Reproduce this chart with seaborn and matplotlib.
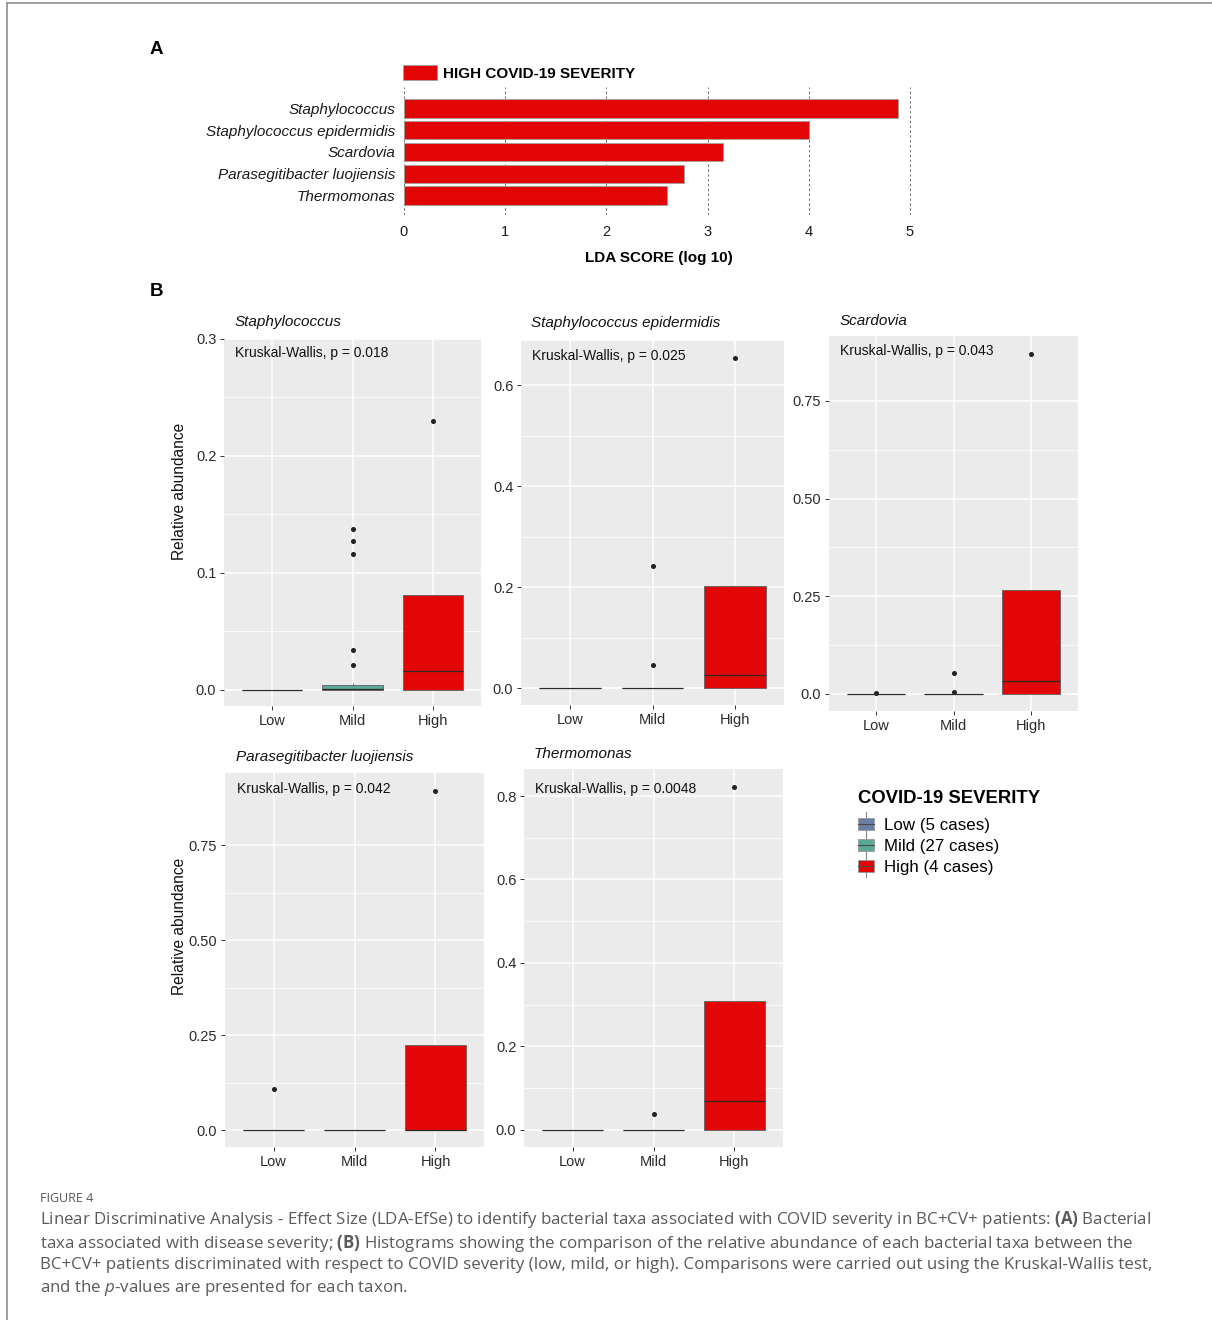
import matplotlib
matplotlib.use("Agg")
import matplotlib.pyplot as plt
import numpy as np
import pandas as pd
import seaborn as sns
from matplotlib.patches import Patch, Rectangle
from matplotlib.lines import Line2D
from matplotlib.legend_handler import HandlerBase

plt.rcParams["font.family"] = ["Liberation Sans", "DejaVu Sans"]
plt.rcParams["mathtext.fontset"] = "custom"
plt.rcParams["mathtext.rm"] = "Open Sans"
plt.rcParams["mathtext.bf"] = "Open Sans:bold"
plt.rcParams["mathtext.it"] = "Open Sans:italic"

# ---------------------------------------------------------------- data
severity_levels = ["Low", "Mild", "High"]
severity_legend = ["Low (5 cases)", "Mild (27 cases)", "High (4 cases)"]
severity_colors = ["#6b7fa3", "#5aa897", "#e30606"]

lda_taxa = ["Staphylococcus", "Staphylococcus epidermidis", "Scardovia",
            "Parasegitibacter luojiensis", "Thermomonas"]
lda_scores = [4.88, 4.00, 3.15, 2.77, 2.60]
lda_ticks = [0, 1, 2, 3, 4, 5]

# relative abundance per patient, by severity group
staph_low = [0, 0, 0, 0, 0]
staph_mild = [0, 0, 0, 0, 0, 0, 0, 0, 0, 0, 0, 0, 0,
              0.0005, 0.001, 0.0015, 0.002, 0.0025, 0.003, 0.0035, 0.0045,
              0.006, 0.021, 0.034, 0.116, 0.127, 0.138]
staph_high = [0, 0, 0.032, 0.230]

epi_low = [0, 0, 0, 0, 0]
epi_mild = [0, 0, 0, 0, 0, 0, 0, 0, 0, 0, 0, 0, 0, 0, 0, 0, 0, 0, 0, 0,
            0, 0, 0, 0, 0, 0.047, 0.243]
epi_high = [0, 0, 0.052, 0.654]

scar_low = [0, 0, 0, 0, 0.003]
scar_mild = [0, 0, 0, 0, 0, 0, 0, 0, 0, 0, 0, 0, 0, 0, 0, 0, 0, 0, 0, 0,
             0, 0, 0, 0, 0, 0.004, 0.052]
scar_high = [0, 0, 0.065, 0.870]

para_low = [0, 0, 0, 0, 0.107]
para_mild = [0, 0, 0, 0, 0, 0, 0, 0, 0, 0, 0, 0, 0, 0, 0, 0, 0, 0, 0, 0,
             0, 0, 0, 0, 0, 0, 0]
para_high = [0, 0, 0, 0.892]

thermo_low = [0, 0, 0, 0, 0]
thermo_mild = [0, 0, 0, 0, 0, 0, 0, 0, 0, 0, 0, 0, 0, 0, 0, 0, 0, 0, 0, 0,
               0, 0, 0, 0, 0, 0, 0.037]
thermo_high = [0, 0, 0.136, 0.822]

kruskal_p = ["0.018", "0.025", "0.043", "0.042", "0.0048"]

facet_yticks = [[0, 0.1, 0.2, 0.3],
                [0, 0.2, 0.4, 0.6],
                [0, 0.25, 0.50, 0.75],
                [0, 0.25, 0.50, 0.75],
                [0, 0.2, 0.4, 0.6, 0.8]]
facet_yticklabels = [["0.0", "0.1", "0.2", "0.3"],
                     ["0.0", "0.2", "0.4", "0.6"],
                     ["0.0", "0.25", "0.50", "0.75"],
                     ["0.0", "0.25", "0.50", "0.75"],
                     ["0.0", "0.2", "0.4", "0.6", "0.8"]]
facet_ylims = [(-0.0137, 0.300), (-0.033, 0.688), (-0.0443, 0.9165),
               (-0.0447, 0.9395), (-0.0417, 0.865)]

group_values = [(staph_low, staph_mild, staph_high),
                (epi_low, epi_mild, epi_high),
                (scar_low, scar_mild, scar_high),
                (para_low, para_mild, para_high),
                (thermo_low, thermo_mild, thermo_high)]

rows = []
for taxon, groups in zip(lda_taxa, group_values):
    for level, vals in zip(severity_levels, groups):
        for v in vals:
            rows.append((taxon, level, v))
abund = pd.DataFrame(rows, columns=["taxon", "severity", "abundance"])

# ---------------------------------------------------------------- layout
W, H = 1212, 1320
fig = plt.figure(figsize=(W / 100, H / 100), dpi=100)
fig.patch.set_facecolor("white")


def fx(x):
    return x / W


def fy(y):
    return 1 - y / H


def px_axes(left, top, right, bottom):
    return fig.add_axes([fx(left), fy(bottom), (right - left) / W, (bottom - top) / H])


# page frame
fig.add_artist(Line2D([fx(7), fx(7)], [0, fy(3)], color="#8f8f8f", lw=1.2))
fig.add_artist(Line2D([fx(7), 1], [fy(3), fy(3)], color="#8f8f8f", lw=1.2))

HIGH_RED = severity_colors[2]

# ---------------------------------------------------------------- panel A
fig.text(fx(150), fy(50), "A", fontsize=13.5, fontweight="bold", va="center", ha="left")

# axis spans a touch past 5 so the last grid line is not clipped
axA = px_axes(404, 87, 914, 215)
lda_df = pd.DataFrame({"taxon": lda_taxa, "score": lda_scores})
sns.barplot(data=lda_df, x="score", y="taxon", order=lda_taxa, color=HIGH_RED,
            saturation=1, width=0.846, edgecolor="#a0a0a0", linewidth=0.6, ax=axA)
axA.set_xlim(0, 5 * (914 - 404) / (910 - 404))
axA.set_ylim(4.9, -0.99)
axA.set_xticks(lda_ticks)
axA.set_xticklabels([str(t) for t in lda_ticks])
axA.grid(axis="x", linestyle=(0, (2.5, 2.5)), color="#6e6e6e", linewidth=0.7)
axA.grid(axis="y", visible=False)
axA.set_axisbelow(True)
for s in axA.spines.values():
    s.set_visible(False)
axA.tick_params(axis="both", length=0, labelsize=10.5, colors="#1a1a1a")
axA.tick_params(axis="y", pad=6, labelsize=11)
axA.tick_params(axis="x", pad=7)
for lab in axA.get_yticklabels():
    lab.set_fontstyle("italic")
axA.set_ylabel("")
axA.set_xlabel("LDA SCORE (log 10)", fontsize=11, fontweight="bold", labelpad=9)
axA.patch.set_alpha(0)

axA.legend(handles=[Patch(facecolor=HIGH_RED, edgecolor="#a0a0a0", lw=0.6,
                          label="HIGH COVID-19 SEVERITY")],
           loc="lower left", bbox_to_anchor=(fx(403), fy(81)),
           bbox_transform=fig.transFigure, frameon=False, borderpad=0,
           borderaxespad=0, handlelength=2.2, handleheight=1.1,
           handletextpad=0.45, prop={"weight": "bold", "size": 11})

# ---------------------------------------------------------------- panel B
fig.text(fx(150), fy(291), "B", fontsize=13.5, fontweight="bold", va="center", ha="left")

facet_boxes = [(224, 339, 481, 706), (521, 341, 784, 705), (829, 336, 1078, 711),
               (225, 773, 484, 1147), (524, 769, 783, 1147)]
title_pos = [(235, 322), (531, 323), (840, 321), (236, 757), (534, 754)]
kw_pos = [(235, 353), (532, 356), (840, 351), (237, 789), (535, 789)]

for i, taxon in enumerate(lda_taxa):
    ax = px_axes(*facet_boxes[i])
    ax.set_facecolor("#EBEBEB")
    sub = abund[abund["taxon"] == taxon]
    sns.boxplot(data=sub, x="severity", y="abundance", hue="severity",
                order=severity_levels, hue_order=severity_levels,
                palette=severity_colors, saturation=1, width=0.75,
                linecolor="#5f5f5f", linewidth=0.6, fliersize=2.6,
                flierprops=dict(marker="o", markerfacecolor="#222222",
                                markeredgecolor="#222222"),
                medianprops=dict(color="#2a2a2a", linewidth=0.9),
                showcaps=False, legend=False, ax=ax)
    ax.set_xlim(-0.6, 2.6)
    ax.set_ylim(*facet_ylims[i])
    ticks = facet_yticks[i]
    ax.set_yticks(ticks)
    ax.set_yticklabels(facet_yticklabels[i])
    ax.set_yticks([(a + b) / 2 for a, b in zip(ticks[:-1], ticks[1:])], minor=True)
    ax.set_axisbelow(True)
    ax.grid(which="major", axis="both", color="white", linewidth=1.1)
    ax.grid(which="minor", axis="y", color="white", linewidth=0.55)
    for s in ax.spines.values():
        s.set_visible(False)
    ax.tick_params(which="major", length=3, width=0.7, color="#333333",
                   labelsize=10.5, labelcolor="#2b2b2b", pad=2.5)
    ax.tick_params(which="minor", length=0)
    ax.set_xlabel("")
    ax.set_ylabel("")
    tx, ty = title_pos[i]
    fig.text(fx(tx), fy(ty), taxon, fontsize=11, fontstyle="italic",
             va="center", ha="left", color="#111111")
    kx, ky = kw_pos[i]
    fig.text(fx(kx), fy(ky), f"Kruskal-Wallis, p = {kruskal_p[i]}", fontsize=10,
             va="center", ha="left", color="#111111")

for yc in (491, 926):
    fig.text(fx(180), fy(yc), "Relative abundance", rotation=90, fontsize=11.2,
             va="center", ha="center", color="#111111")


class BoxKey(HandlerBase):
    """Legend key drawn like a small boxplot: whisker, box and median."""

    def create_artists(self, legend, orig_handle, xdescent, ydescent,
                       width, height, fontsize, trans):
        x0, y0 = -xdescent, -ydescent
        whisker = Line2D([x0 + width / 2] * 2, [y0 - 0.45 * height, y0 + 1.45 * height],
                         color="#8a8a8a", lw=0.8, transform=trans)
        box = Rectangle((x0, y0), width, height, facecolor=orig_handle.get_facecolor(),
                        edgecolor="#9a9a9a", lw=0.6, transform=trans)
        median = Line2D([x0, x0 + width], [y0 + height / 2] * 2,
                        color="#4a4a4a", lw=0.8, transform=trans)
        return [whisker, box, median]


handles = [Patch(facecolor=c, label=l) for c, l in zip(severity_colors, severity_legend)]
legB = fig.legend(handles=handles, handler_map={Patch: BoxKey()},
                  title="COVID-19 SEVERITY",
                  title_fontproperties={"weight": "bold", "size": 13.3},
                  loc="upper left", bbox_to_anchor=(fx(858), fy(790)),
                  frameon=False, borderpad=0, borderaxespad=0, fontsize=12.2,
                  handlelength=0.95, handleheight=0.7, labelspacing=0.36,
                  handletextpad=0.6, alignment="left")
# a little more room between the legend title and its entries
legB._legend_box.sep = 0.36 * 12.2 + 3.2

# ---------------------------------------------------------------- caption
cap_font = ["Open Sans", "DejaVu Sans"]
cap_color = "#5a5a5a"
fig.text(fx(40), fy(1199), "FIGURE 4", fontsize=9, color="#555555",
         family=cap_font, va="center", ha="left")

caption_lines = [
    r"Linear Discriminative Analysis - Effect Size (LDA-EfSe) to identify bacterial taxa associated with COVID severity in BC+CV+ patients: $\mathbf{(A)}$ Bacterial",
    r"taxa associated with disease severity; $\mathbf{(B)}$ Histograms showing the comparison of the relative abundance of each bacterial taxa between the",
    r"BC+CV+ patients discriminated with respect to COVID severity (low, mild, or high). Comparisons were carried out using the Kruskal-Wallis test,",
    r"and the $\mathit{p}$-values are presented for each taxon.",
]
caption_y = [1220, 1243, 1265, 1288]
cap_texts = [fig.text(fx(40), fy(y), s, fontsize=10.5, color=cap_color,
                      family=cap_font, va="center", ha="left")
             for s, y in zip(caption_lines, caption_y)]
renderer = fig.canvas.get_renderer()
w0 = cap_texts[0].get_window_extent(renderer).width
scale = 1119 / w0
for t in cap_texts:
    t.set_fontsize(10.5 * scale)

fig.savefig("out.png", dpi=100, facecolor="white")
